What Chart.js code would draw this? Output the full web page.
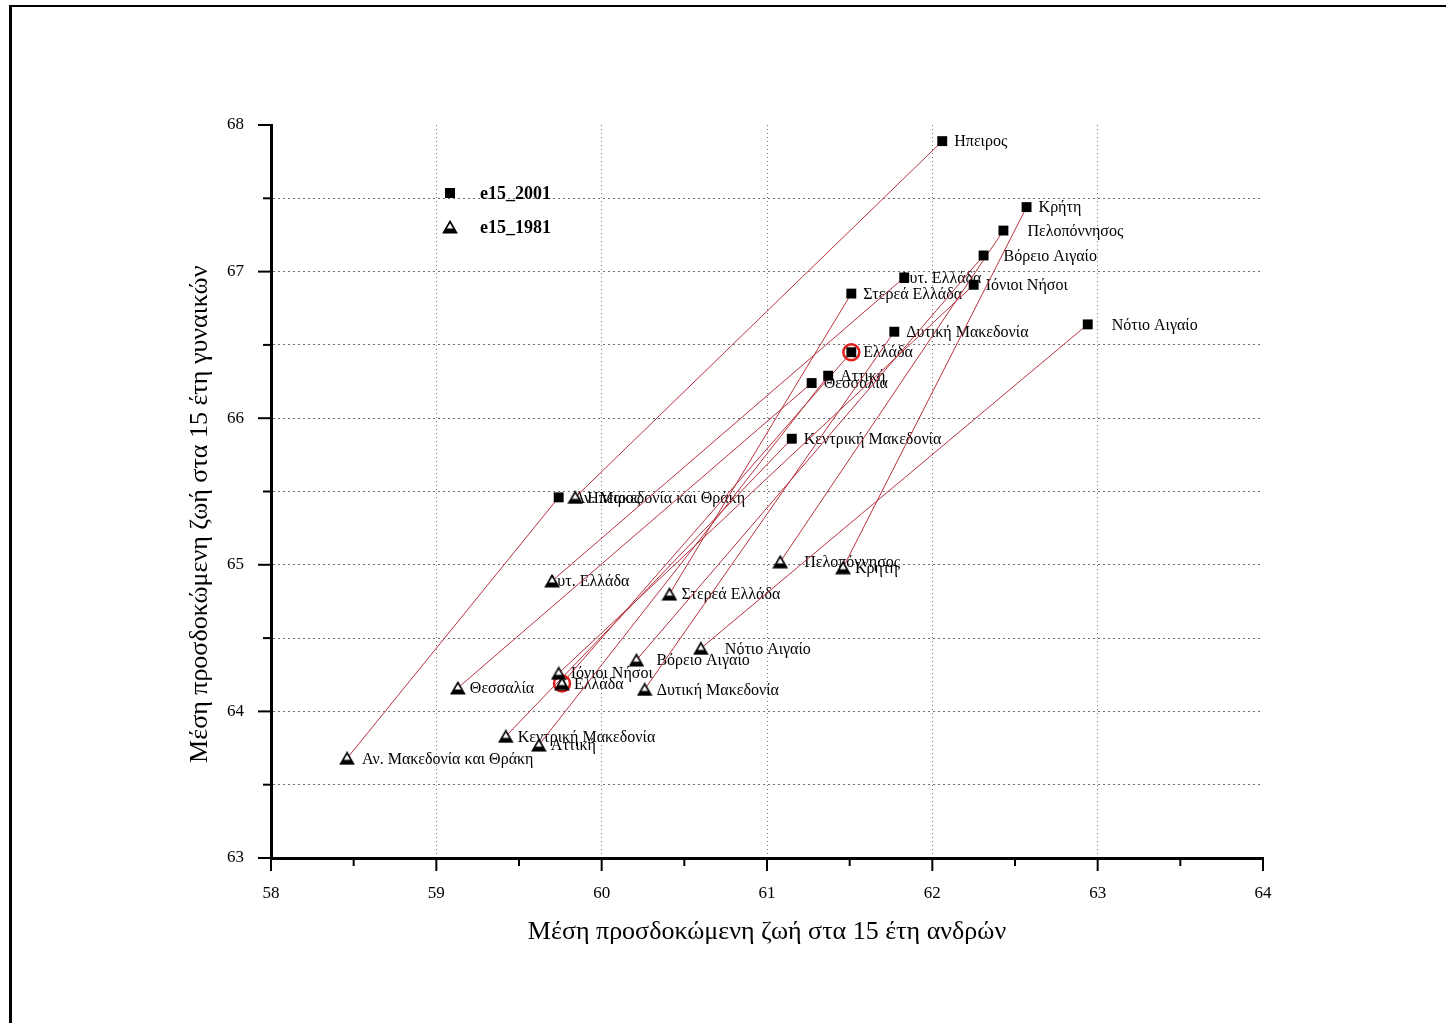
<!DOCTYPE html>
<html>
<head>
<meta charset="utf-8">
<script src="https://cdn.jsdelivr.net/npm/chart.js@4.4.1/dist/chart.umd.min.js"></script>
<style>
  html, body { margin: 0; padding: 0; background: #fff; }
  #wrap { position: relative; width: 1446px; height: 1023px; overflow: hidden; }
  #frame { position: absolute; left: 9px; top: 5px; right: -10px; bottom: -10px; border-left: 3px solid #000; border-top: 2px solid #000; }
  canvas { position: absolute; left: 0; top: 0; }
</style>
</head>
<body>
<div id="wrap">
  <div id="frame"></div>
  <canvas id="chart" width="1446" height="1023"></canvas>
</div>
<script>
// regions, in the same order in every array
const regions = [
    'Ηπειρος', 'Κρήτη', 'Πελοπόννησος', 'Βόρειο Αιγαίο', 'Δυτ. Ελλάδα',
    'Ιόνιοι Νήσοι', 'Στερεά Ελλάδα', 'Νότιο Αιγαίο', 'Δυτική Μακεδονία', 'Ελλάδα',
    'Αττική', 'Θεσσαλία', 'Κεντρική Μακεδονία', 'Αν. Μακεδονία και Θράκη'
];
const men2001   = [62.06, 62.57, 62.43, 62.31, 61.83, 62.25, 61.51, 62.94, 61.77, 61.51, 61.37, 61.27, 61.15, 59.74];
const women2001 = [67.89, 67.44, 67.28, 67.11, 66.96, 66.91, 66.85, 66.64, 66.59, 66.45, 66.29, 66.24, 65.86, 65.46];
const men1981   = [59.84, 61.46, 61.08, 60.21, 59.70, 59.74, 60.41, 60.60, 60.26, 59.76, 59.62, 59.13, 59.42, 58.46];
const women1981 = [65.46, 64.98, 65.02, 64.35, 64.89, 64.26, 64.80, 64.43, 64.15, 64.19, 63.77, 64.16, 63.83, 63.68];

const seriesNames = ['e15_2001', 'e15_1981'];
const highlight = 'Ελλάδα';

// label gap from marker (px), default 12
const labelGap = {'Πελοπόννησος': 24, 'Νότιο Αιγαίο': 24, 'Βόρειο Αιγαίο': 20, 'Δυτ. Ελλάδα': -5, 'Αν. Μακεδονία και Θράκη': 15};

const serif = "'Liberation Serif', 'DejaVu Serif', serif";

// half-filled triangle marker like the original
const tri = document.createElement('canvas');
tri.width = 16; tri.height = 14;
(function () {
    const c = tri.getContext('2d');
    c.beginPath();
    c.moveTo(8, 1.5); c.lineTo(14.5, 12.8); c.lineTo(1.5, 12.8); c.closePath();
    c.fillStyle = '#fff'; c.fill();
    c.lineWidth = 1.6; c.strokeStyle = '#000'; c.stroke();
    c.save(); c.clip();
    c.fillStyle = '#000'; c.fillRect(0, 8.5, 16, 6);
    c.restore();
})();

const pts = (xs, ys) => xs.map((x, i) => ({x: x, y: ys[i]}));
const hIdx = regions.indexOf(highlight);

const datasets = [
    {label: seriesNames[0], data: pts(men2001, women2001), pointStyle: 'rect', pointRadius: 7,
        backgroundColor: '#000', borderColor: '#000', borderWidth: 0, names: true},
    {label: seriesNames[1], data: pts(men1981, women1981), pointStyle: tri, pointRadius: 7, names: true},
    {label: 'hl', data: [{x: men2001[hIdx], y: women2001[hIdx]}, {x: men1981[hIdx], y: women1981[hIdx]}],
        pointStyle: 'circle', pointRadius: 8, borderWidth: 2.5, borderColor: '#e0201c', backgroundColor: 'rgba(0,0,0,0)'}
];
regions.forEach((r, i) => {
    datasets.push({
        label: r,
        data: [{x: men1981[i], y: women1981[i]}, {x: men2001[i], y: women2001[i]}],
        showLine: true, pointRadius: 0, borderColor: '#b8323e', borderWidth: 1
    });
});

const isInt = v => Math.abs(v - Math.round(v)) < 1e-6;

const labelPlugin = {
    id: 'names',
    beforeDatasetsDraw(chart) {
        const ctx = chart.ctx;
        ctx.save();
        ctx.font = '16px ' + serif;
        ctx.fillStyle = '#000';
        ctx.textBaseline = 'middle';
        chart.data.datasets.forEach((ds, di) => {
            if (!ds.names) return;
            chart.getDatasetMeta(di).data.forEach((el, i) => {
                const name = regions[i];
                const gap = labelGap[name] !== undefined ? labelGap[name] : 12;
                ctx.fillText(name, el.x + gap, el.y + 1);
            });
        });
        ctx.restore();
    }
};

const tickPlugin = {
    id: 'tickMarks',
    afterDraw(chart) {
        const ctx = chart.ctx;
        const {x, y} = chart.scales;
        ctx.save();
        ctx.strokeStyle = '#000';
        ctx.lineWidth = 2;
        x.ticks.forEach(t => {
            const px = x.getPixelForValue(t.value);
            const len = isInt(t.value) ? 13 : 8;
            ctx.beginPath(); ctx.moveTo(px, y.bottom); ctx.lineTo(px, y.bottom + len); ctx.stroke();
        });
        y.ticks.forEach(t => {
            const py = y.getPixelForValue(t.value);
            const len = isInt(t.value) ? 13 : 8;
            ctx.beginPath(); ctx.moveTo(x.left, py); ctx.lineTo(x.left - len, py); ctx.stroke();
        });
        ctx.restore();
    }
};

const legendPlugin = {
    id: 'boxLegend',
    afterDatasetsDraw(chart) {
        const ctx = chart.ctx;
        const a = chart.chartArea;
        const lx = a.left + 179, ly = a.top + 68;
        ctx.save();
        ctx.fillStyle = '#000';
        ctx.fillRect(lx - 5, ly - 5, 10, 10);
        ctx.drawImage(tri, lx - 8, ly + 34 - 7);
        ctx.font = 'bold 18px ' + serif;
        ctx.textBaseline = 'middle';
        ctx.fillText(seriesNames[0], lx + 30, ly + 1);
        ctx.fillText(seriesNames[1], lx + 30, ly + 35);
        ctx.restore();
    }
};

const gridColor = (lo, hi) => c => {
    if (!c.tick) return 'rgba(0,0,0,0)';
    const v = c.tick.value;
    return (v <= lo + 1e-6 || v >= hi - 1e-6) ? 'rgba(0,0,0,0)' : '#707070';
};

new Chart(document.getElementById('chart'), {
    type: 'scatter',
    data: {datasets: datasets},
    plugins: [labelPlugin, tickPlugin, legendPlugin],
    options: {
        responsive: false,
        animation: false,
        events: [],
        layout: {padding: {left: 181, top: 125, right: 183, bottom: 71}},
        plugins: {legend: {display: false}, tooltip: {enabled: false}},
        scales: {
            x: {
                type: 'linear', min: 58, max: 64,
                afterFit: s => { s.height = 94; },
                ticks: {
                    stepSize: 0.5, autoSkip: false, maxRotation: 0, padding: 25,
                    color: '#000', font: {family: serif, size: 17},
                    callback: v => isInt(v) ? String(Math.round(v)) : ''
                },
                grid: {
                    drawTicks: false, lineWidth: 1,
                    color: c => (c.tick && isInt(c.tick.value)) ? gridColor(58, 64)(c) : 'rgba(0,0,0,0)'
                },
                border: {display: true, color: '#000', width: 3, dash: [1, 3]},
                title: {
                    display: true, text: 'Μέση προσδοκώμενη ζωή στα 15 έτη ανδρών',
                    color: '#000', font: {family: serif, size: 26}
                }
            },
            y: {
                type: 'linear', min: 63, max: 68,
                afterFit: s => { s.width = 90; },
                ticks: {
                    stepSize: 0.5, autoSkip: false, padding: 27,
                    color: '#000', font: {family: serif, size: 17},
                    callback: v => isInt(v) ? String(Math.round(v)) : ''
                },
                grid: {drawTicks: false, lineWidth: 1, color: gridColor(63, 68)},
                border: {display: true, color: '#000', width: 3, dash: [2, 3]},
                title: {
                    display: true, text: 'Μέση προσδοκώμενη ζωή στα 15 έτη γυναικών       ',
                    color: '#000', font: {family: serif, size: 26}
                }
            }
        }
    }
});
</script>
</body>
</html>
